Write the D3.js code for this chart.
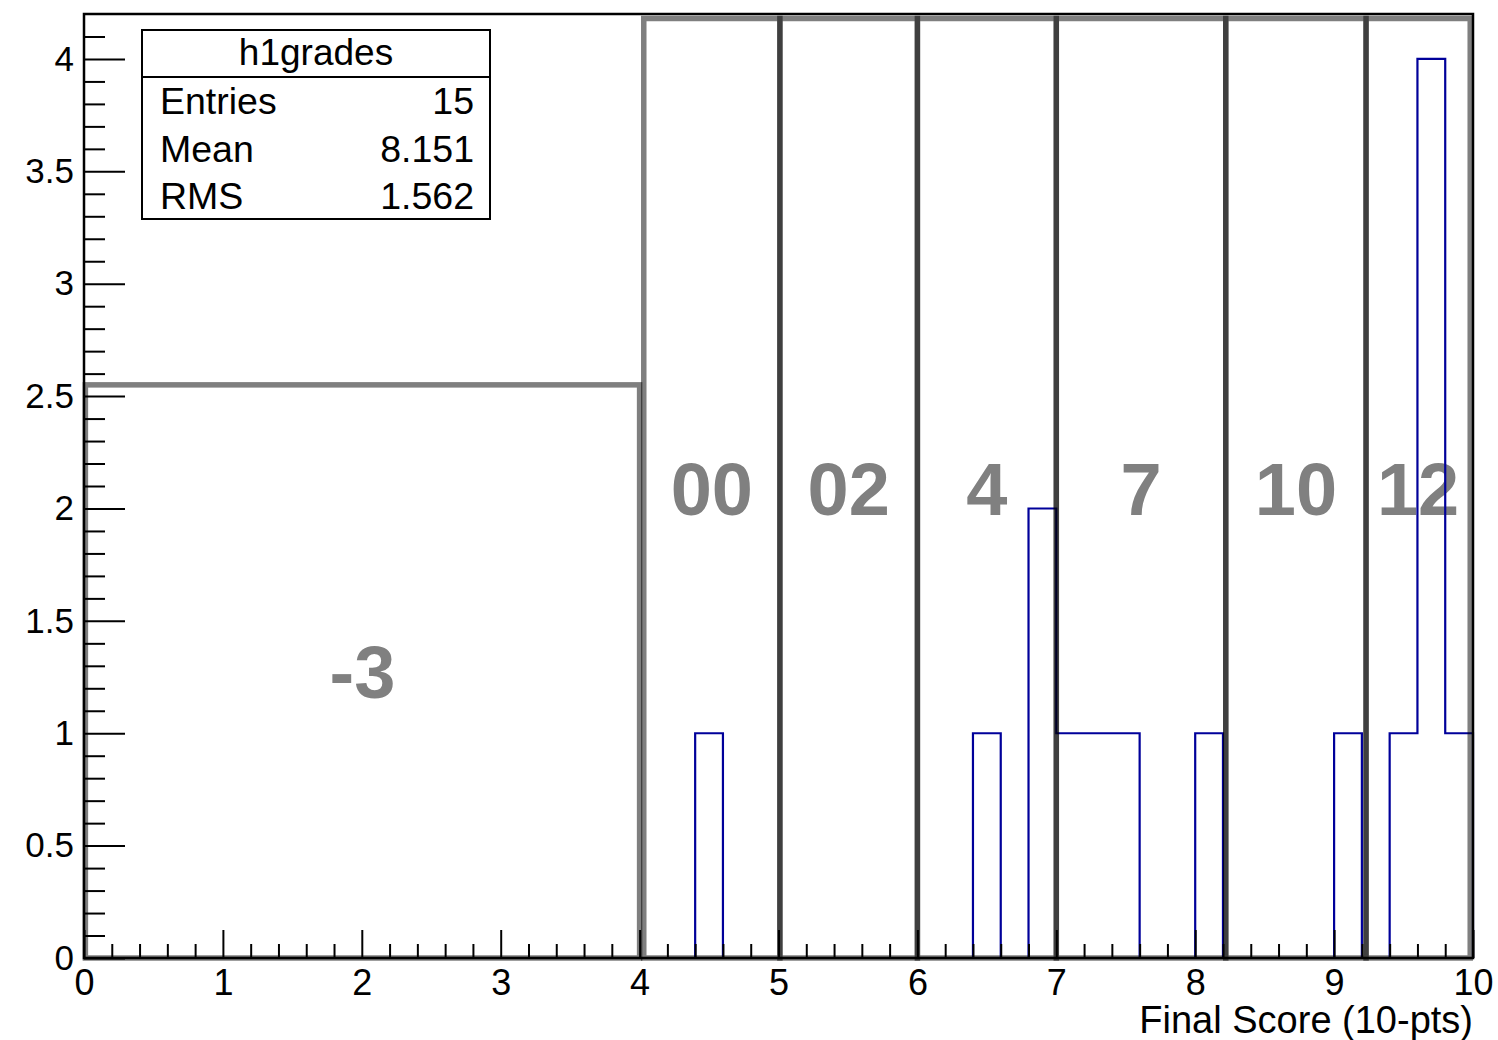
<!DOCTYPE html>
<html>
<head>
<meta charset="utf-8">
<script src="https://cdn.jsdelivr.net/npm/d3@7"></script>
<style>
  body { margin: 0; background: #fff; }
  svg { display: block; font-family: "Liberation Sans", Arial, Helvetica, sans-serif; }
</style>
</head>
<body>
<svg id="chart" width="1498" height="1040"></svg>
<script>
// histogram h1grades: 50 bins of 0.2 from 0 to 10
const binCounts = [
  0, 0, 0, 0, 0, 0, 0, 0, 0, 0,
  0, 0, 0, 0, 0, 0, 0, 0, 0, 0,
  0, 0, 1, 0, 0, 0, 0, 0, 0, 0,
  0, 0, 1, 0, 2, 1, 1, 1, 0, 0,
  1, 0, 0, 0, 0, 1, 0, 1, 4, 1
];
const xMin = 0, xMax = 10, yMax = 4.2;

// grade boxes (danish scale)
const grades    = ["-3", "00", "02", "4", "7", "10", "12"];
const gradeLow  = [0.01, 4.03, 5.01, 6.0, 7.0, 8.22, 9.23];
const gradeHigh = [4.0, 5.01, 6.0, 7.0, 8.22, 9.23, 9.98];
const gradeTop  = [2.55, 4.18, 4.18, 4.18, 4.18, 4.18, 4.18];

const xTicks = [0, 1, 2, 3, 4, 5, 6, 7, 8, 9, 10];
const yTicks = [0, 0.5, 1, 1.5, 2, 2.5, 3, 3.5, 4];

const statLabels = ["Entries", "Mean", "RMS"];
const statValues = ["15", "8.151", "1.562"];

(function() {
  const INK = "#000";
  const HIST = "#00009a";

  const svg = d3.select("#chart");
  const pad = { left: 84, right: 1473, top: 14, bottom: 958 };

  const x = d3.scaleLinear().domain([xMin, xMax]).range([pad.left, pad.right]);
  const y = d3.scaleLinear().domain([0, yMax]).range([pad.bottom, pad.top]);

  // grade labels (under histogram)
  svg.append("g")
    .selectAll("text")
    .data(grades)
    .join("text")
    .attr("x", (d, i) => x((gradeLow[i] + gradeHigh[i]) / 2))
    .attr("y", (d, i) => y(gradeTop[i] / 2))
    .attr("dy", "0.36em")
    .attr("text-anchor", "middle")
    .attr("font-weight", "bold")
    .attr("font-size", 74)
    .attr("fill", "#808080")
    .text(d => d);

  // histogram outline as step line
  const binW = (xMax - xMin) / binCounts.length;
  const pts = binCounts.map((c, i) => [xMin + i * binW, c]);
  pts.push([xMax, binCounts[binCounts.length - 1]]);
  const line = d3.line()
    .x(d => x(d[0]))
    .y(d => y(d[1]))
    .curve(d3.curveStepAfter);
  svg.append("path")
    .attr("d", line([[xMin, 0], ...pts, [xMax, 0]]))
    .attr("fill", "none")
    .attr("stroke", HIST)
    .attr("stroke-width", 2.2);

  // grade boxes, half transparent so overlaps get darker
  svg.append("g")
    .selectAll("rect")
    .data(grades)
    .join("rect")
    .attr("x", (d, i) => x(gradeLow[i]))
    .attr("y", (d, i) => y(gradeTop[i]))
    .attr("width", (d, i) => x(gradeHigh[i]) - x(gradeLow[i]))
    .attr("height", (d, i) => y(0) - y(gradeTop[i]))
    .attr("fill", "none")
    .attr("stroke", "#000")
    .attr("stroke-opacity", 0.5)
    .attr("stroke-width", 5.5);

  // axes with inward ticks
  function styleAxis(g) {
    g.select(".domain").remove();
    g.selectAll("line").attr("stroke", INK).attr("stroke-width", 2);
    g.selectAll("text").attr("fill", INK);
    g.attr("font-family", null);
  }

  const yMinor = d3.range(0, 42).map(i => i / 10).filter(v => !yTicks.includes(Math.round(v * 10) / 10));
  svg.append("g")
    .attr("transform", `translate(${pad.left},0)`)
    .call(d3.axisLeft(y).tickValues(yMinor).tickSize(-21).tickFormat(""))
    .call(styleAxis);
  svg.append("g")
    .attr("transform", `translate(${pad.left},0)`)
    .call(d3.axisLeft(y).tickValues(yTicks).tickSize(-41).tickPadding(10).tickFormat(d3.format("")))
    .call(styleAxis)
    .attr("font-size", 35);

  const xMinor = d3.range(0, 51).map(i => i / 5).filter(v => !xTicks.includes(v));
  svg.append("g")
    .attr("transform", `translate(0,${pad.bottom})`)
    .call(d3.axisBottom(x).tickValues(xMinor).tickSize(-14).tickFormat(""))
    .call(styleAxis);
  svg.append("g")
    .attr("transform", `translate(0,${pad.bottom})`)
    .call(d3.axisBottom(x).tickValues(xTicks).tickSize(-28).tickPadding(11).tickFormat(d3.format("")))
    .call(styleAxis)
    .attr("font-size", 36);

  // frame
  svg.append("rect")
    .attr("x", pad.left).attr("y", pad.top)
    .attr("width", pad.right - pad.left).attr("height", pad.bottom - pad.top)
    .attr("fill", "none")
    .attr("stroke", INK)
    .attr("stroke-width", 2.5);

  // axis title
  svg.append("text")
    .attr("x", pad.right)
    .attr("y", 1033)
    .attr("text-anchor", "end")
    .attr("font-size", 38)
    .attr("fill", INK)
    .text("Final Score (10-pts)");

  // stats box
  const stats = svg.append("g");
  stats.append("rect")
    .attr("x", 142).attr("y", 30)
    .attr("width", 348).attr("height", 189)
    .attr("fill", "#fff")
    .attr("stroke", INK)
    .attr("stroke-width", 2);
  stats.append("line")
    .attr("x1", 142).attr("x2", 490)
    .attr("y1", 77).attr("y2", 77)
    .attr("stroke", INK)
    .attr("stroke-width", 2);
  stats.append("text")
    .attr("x", 316).attr("y", 65)
    .attr("text-anchor", "middle")
    .attr("font-size", 37)
    .text("h1grades");
  stats.selectAll(".lab")
    .data(statLabels)
    .join("text")
    .attr("class", "lab")
    .attr("x", 160)
    .attr("y", (d, i) => 114 + i * 47.5)
    .attr("font-size", 37.5)
    .text(d => d);
  stats.selectAll(".val")
    .data(statValues)
    .join("text")
    .attr("class", "val")
    .attr("x", 474)
    .attr("y", (d, i) => 114 + i * 47.5)
    .attr("text-anchor", "end")
    .attr("font-size", 37.5)
    .text(d => d);
})();
</script>
</body>
</html>
